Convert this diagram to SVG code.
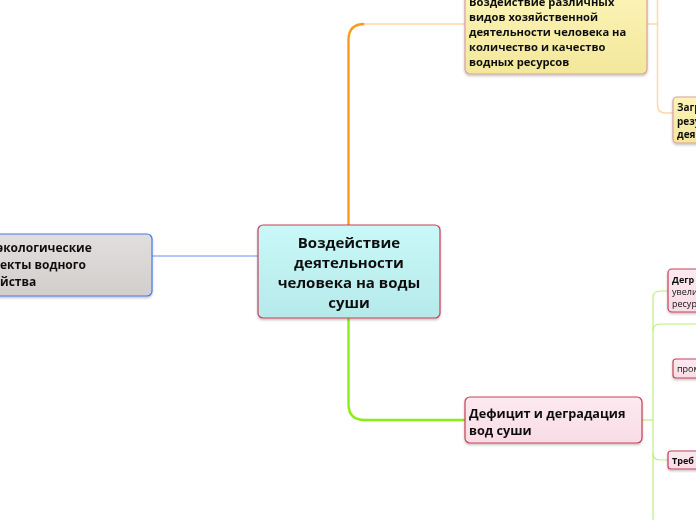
<svg xmlns="http://www.w3.org/2000/svg" width="696" height="520" viewBox="0 0 696 520">
<defs>
<linearGradient id="gCyan" x1="0" y1="0" x2="0" y2="1"><stop offset="0" stop-color="#c9f8f8"/><stop offset="1" stop-color="#b6eaea"/></linearGradient>
<linearGradient id="gYel" x1="0" y1="0" x2="0" y2="1"><stop offset="0" stop-color="#fcf5b8"/><stop offset="1" stop-color="#f3e79b"/></linearGradient>
<linearGradient id="gPink" x1="0" y1="0" x2="0" y2="1"><stop offset="0" stop-color="#fde9f0"/><stop offset="1" stop-color="#f8dce6"/></linearGradient>
<linearGradient id="gGray" x1="0" y1="0" x2="0" y2="1"><stop offset="0" stop-color="#e2dedd"/><stop offset="1" stop-color="#d2cecc"/></linearGradient>
<filter id="sh" x="-10%" y="-10%" width="120%" height="130%"><feDropShadow dx="0" dy="1.5" stdDeviation="1" flood-color="#000" flood-opacity="0.25"/></filter>
</defs>
<style>
text{font-family:"Open Sans","Noto Sans","DejaVu Sans",sans-serif;fill:#111;}
.b{font-weight:bold;}
.c{text-anchor:middle;}
.node{filter:url(#sh);}
.cyan{fill:url(#gCyan);stroke:#c8405a;stroke-width:1.2;}
.yel{fill:url(#gYel);stroke:#d9a0a0;stroke-width:1.2;}
.pink{fill:url(#gPink);stroke:#c8405a;stroke-width:1.2;}
.gray{fill:url(#gGray);stroke:#4a78ee;stroke-width:1.2;}
.conn path{fill:none;}
.or{stroke:#ff9a18;stroke-width:2.4;}
.orl{stroke:#ffd9a6;stroke-width:1.5;}
.gr{stroke:#88ee18;stroke-width:2.4;}
.grl{stroke:#baf27c;stroke-width:1.2;}
.bl{stroke:#6a8cf0;stroke-width:1;}
</style>
<g id="connectors" class="conn">
<path class="bl" d="M152,256 H258"/>
<path class="or" d="M348.5,225 V40 Q348.5,24 364.5,24"/>
<path class="orl" d="M364,24 H465"/>
<path class="orl" d="M647,24 H657.5"/>
<path class="orl" d="M657.5,-10 V105 Q657.5,113 665.5,113 H673"/>
<path class="gr" d="M348.5,318 V404 Q348.5,420 364.5,420"/>
<path class="gr" d="M364,420 H465"/>
<path class="grl" d="M642,420 H653"/>
<path class="grl" d="M653,520 V298 Q653,291 660,291 H668"/>
<path class="grl" d="M653,331 Q653,324 660,324 H700"/>
<path class="grl" d="M653,453 Q653,460 660,460 H668"/>
</g>
<g id="node-center" class="node">
<rect class="cyan" x="258" y="225" width="182" height="93" rx="5"/>
<text class="b c" x="349" y="247.5" font-size="15">Воздействие</text>
<text class="b c" x="349" y="267.5" font-size="15">деятельности</text>
<text class="b c" x="349" y="287.5" font-size="15">человека на воды</text>
<text class="b c" x="349" y="307.5" font-size="15">суши</text>
</g>
<g id="node-left" class="node">
<rect class="gray" x="-12" y="234" width="164" height="62" rx="5"/>
<text class="b" x="-3" y="252" font-size="12">экологические</text>
<text class="b" x="0" y="269" font-size="12">екты водного</text>
<text class="b" x="0" y="286" font-size="12">йства</text>
</g>
<g id="node-top" class="node">
<rect class="yel" x="465" y="-14" width="182" height="88" rx="5"/>
<text class="b" x="469" y="6" font-size="11.2">Воздействие различных</text>
<text class="b" x="469" y="21" font-size="11.2">видов хозяйственной</text>
<text class="b" x="469" y="36" font-size="11.2">деятельности человека на</text>
<text class="b" x="469" y="51" font-size="11.2">количество и качество</text>
<text class="b" x="469" y="66" font-size="11.2">водных ресурсов</text>
</g>
<g id="node-zagr" class="node">
<rect class="yel" x="673" y="97" width="40" height="46" rx="4"/>
<text class="b" x="677" y="111" font-size="10">Загр</text>
<text class="b" x="677" y="125" font-size="10">резу</text>
<text class="b" x="677" y="138" font-size="10">дея</text>
</g>
<g id="node-deficit" class="node">
<rect class="pink" x="465" y="397" width="177" height="46" rx="5"/>
<text class="b" x="469" y="418" font-size="12.7">Дефицит и деградация</text>
<text class="b" x="469" y="435" font-size="12.7">вод суши</text>
</g>
<g id="node-degr" class="node">
<rect class="pink" x="668" y="269" width="50" height="43" rx="4"/>
<text class="b" x="672" y="283" font-size="9">Дегр</text>
<text x="672" y="295" font-size="9">увели</text>
<text x="672" y="307" font-size="9">ресур</text>
</g>
<g id="node-prom" class="node">
<rect class="pink" x="673" y="359" width="40" height="19" rx="3"/>
<text x="677" y="372" font-size="9">пром</text>
</g>
<g id="node-treb" class="node">
<rect class="pink" x="668" y="451" width="50" height="18" rx="3"/>
<text class="b" x="672" y="464" font-size="9">Треб</text>
</g>
</svg>
